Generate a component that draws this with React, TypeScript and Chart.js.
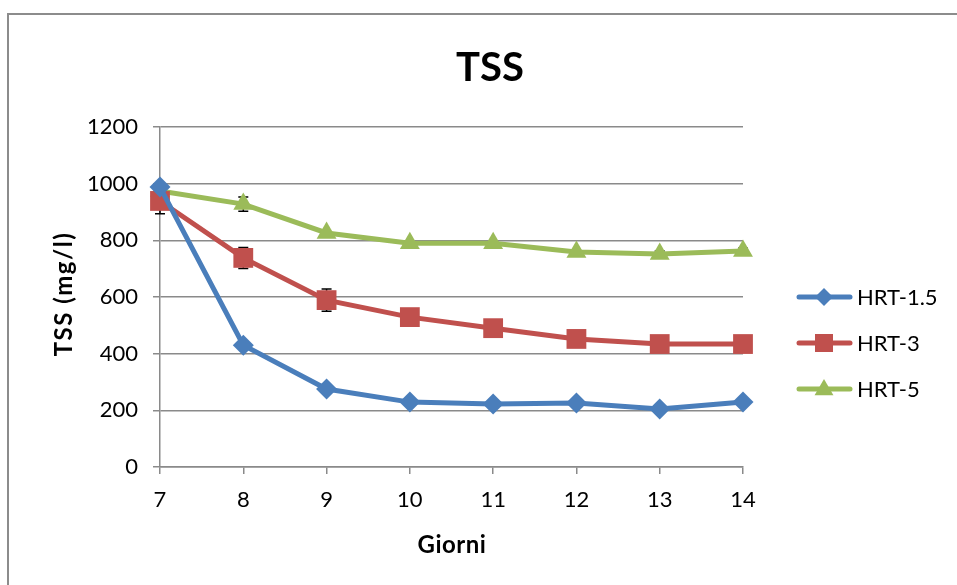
import React, { useEffect, useRef } from 'react';
import { Chart, registerables } from 'chart.js';

Chart.register(...registerables);

const days = ['7', '8', '9', '10', '11', '12', '13', '14'];
const hrt15 = [988, 430, 275, 229, 222, 226, 205, 229];
const hrt3 = [939, 738, 589, 529, 490, 452, 434, 434];
const hrt5 = [974, 928, 826, 790, 790, 759, 752, 762];
const err15 = [0, 0, 0, 0, 0, 0, 0, 0];
const err3 = [45, 37, 39, 0, 0, 0, 0, 0];
const err5 = [0, 25, 0, 0, 0, 0, 10, 10];
const seriesNames = ['HRT-1.5', 'HRT-3', 'HRT-5'];
const colors = ['#4A7EBB', '#C0504D', '#9BBB59'];
const errors = [err15, err3, err5];

const FONT = 'Lato, "Open Sans", sans-serif';
const GRID = '#8a8a8a';

function drawMarker(ctx: CanvasRenderingContext2D, kind: number, x: number, y: number, s: number) {
  ctx.beginPath();
  if (kind === 0) {
    ctx.moveTo(x, y - s);
    ctx.lineTo(x + s, y);
    ctx.lineTo(x, y + s);
    ctx.lineTo(x - s, y);
  } else if (kind === 1) {
    ctx.rect(x - s, y - s, 2 * s, 2 * s);
  } else {
    ctx.moveTo(x, y - s * 1.1);
    ctx.lineTo(x + s * 1.05, y + s * 0.7);
    ctx.lineTo(x - s * 1.05, y + s * 0.7);
  }
  ctx.closePath();
  ctx.fill();
}

const errorBarPlugin = {
  id: 'errorBars',
  beforeDatasetsDraw(chart: any) {
    const ctx = chart.ctx;
    const yScale = chart.scales.y;
    ctx.save();
    ctx.strokeStyle = '#000';
    ctx.lineWidth = 1.5;
    chart.data.datasets.forEach((ds: any, i: number) => {
      const meta = chart.getDatasetMeta(i);
      ds.data.forEach((v: number, j: number) => {
        const e = errors[i][j];
        if (!e) return;
        const x = meta.data[j].x;
        const yt = yScale.getPixelForValue(v + e);
        const yb = yScale.getPixelForValue(v - e);
        ctx.beginPath();
        ctx.moveTo(x, yt);
        ctx.lineTo(x, yb);
        ctx.moveTo(x - 5, yt);
        ctx.lineTo(x + 5, yt);
        ctx.moveTo(x - 5, yb);
        ctx.lineTo(x + 5, yb);
        ctx.stroke();
      });
    });
    ctx.restore();
  },
};

const decorPlugin = {
  id: 'decor',
  afterDraw(chart: any) {
    const ctx = chart.ctx;
    ctx.save();
    ctx.fillStyle = '#000';
    ctx.textAlign = 'center';
    ctx.textBaseline = 'middle';
    ctx.font = `bold 40px ${FONT}`;
    ctx.fillText('TSS', 490, 68);
    ctx.font = `bold 24px ${FONT}`;
    (ctx as any).letterSpacing = '0.5px';
    ctx.fillText('Giorni', 452, 545);
    ctx.save();
    ctx.translate(64, 294);
    ctx.rotate(-Math.PI / 2);
    (ctx as any).letterSpacing = '1.5px';
    ctx.fillText('TSS (mg/l)', 0, 0);
    ctx.restore();
    (ctx as any).letterSpacing = '0px';

    // legend
    const ys = [297, 343, 389];
    ctx.textAlign = 'left';
    ctx.font = `22px ${FONT}`;
    seriesNames.forEach((name, i) => {
      const y = ys[i];
      ctx.strokeStyle = colors[i];
      ctx.fillStyle = colors[i];
      ctx.lineWidth = 5;
      ctx.lineCap = 'round';
      ctx.beginPath();
      ctx.moveTo(799, y);
      ctx.lineTo(850, y);
      ctx.stroke();
      drawMarker(ctx, i, 824, y, 9);
      ctx.fillStyle = '#000';
      ctx.fillText(name, 857, y + 1);
    });
    ctx.restore();
  },
};

export default function App() {
  const ref = useRef<HTMLCanvasElement>(null);
  useEffect(() => {
    if (!ref.current) return;
    const chart = new Chart(ref.current, {
      type: 'line',
      data: {
        labels: days,
        datasets: [
          {
            label: seriesNames[0],
            data: hrt15,
            borderColor: colors[0],
            backgroundColor: colors[0],
            borderWidth: 5,
            pointStyle: 'rectRot',
            pointRadius: 10.5,
            pointBorderWidth: 0,
            clip: false as any,
          },
          {
            label: seriesNames[1],
            data: hrt3,
            borderColor: colors[1],
            backgroundColor: colors[1],
            borderWidth: 5,
            pointStyle: 'rect',
            pointRadius: 14,
            pointBorderWidth: 0,
            clip: false as any,
          },
          {
            label: seriesNames[2],
            data: hrt5,
            borderColor: colors[2],
            backgroundColor: colors[2],
            borderWidth: 5,
            pointStyle: 'triangle',
            pointRadius: 11.5,
            pointBorderWidth: 0,
            clip: false as any,
          },
        ],
      },
      options: {
        animation: false,
        responsive: false,
        maintainAspectRatio: false,
        layout: { padding: { top: 127, right: 214, bottom: 0, left: 0 } },
        plugins: {
          legend: { display: false },
          title: { display: false },
          tooltip: { enabled: false },
        },
        scales: {
          x: {
            type: 'category',
            offset: false,
            afterFit: (s: any) => {
              s.height = 118;
            },
            grid: {
              display: true,
              drawOnChartArea: false,
              drawTicks: true,
              tickLength: 7,
              color: GRID,
              lineWidth: 1.5,
            },
            border: { display: true, color: GRID, width: 1.5 },
            ticks: {
              color: '#000',
              font: { family: FONT, size: 22 },
              padding: 13,
              maxRotation: 0,
              autoSkip: false,
            },
          },
          y: {
            min: 0,
            max: 1200,
            afterFit: (s: any) => {
              s.width = 160;
            },
            grid: {
              color: GRID,
              lineWidth: 1.5,
              drawTicks: true,
              tickLength: 7,
            },
            border: { display: true, color: GRID, width: 1.5 },
            ticks: {
              stepSize: 200,
              color: '#000',
              font: { family: FONT, size: 22 },
              padding: 15,
              callback: (v: any) => String(v),
            },
          },
        },
      },
      plugins: [errorBarPlugin, decorPlugin],
    });
    return () => chart.destroy();
  }, []);

  return (
    <div
      style={{
        position: 'fixed',
        left: 0,
        top: 0,
        width: 957,
        height: 585,
        overflow: 'hidden',
        background: '#fff',
      }}
    >
      <div
        style={{
          position: 'absolute',
          left: 7,
          top: 13,
          width: 1000,
          height: 1000,
          border: '2px solid #8c8c8c',
        }}
      />
      <canvas
        ref={ref}
        width={957}
        height={585}
        style={{ position: 'absolute', left: 0, top: 0, width: 957, height: 585 }}
      />
    </div>
  );
}
